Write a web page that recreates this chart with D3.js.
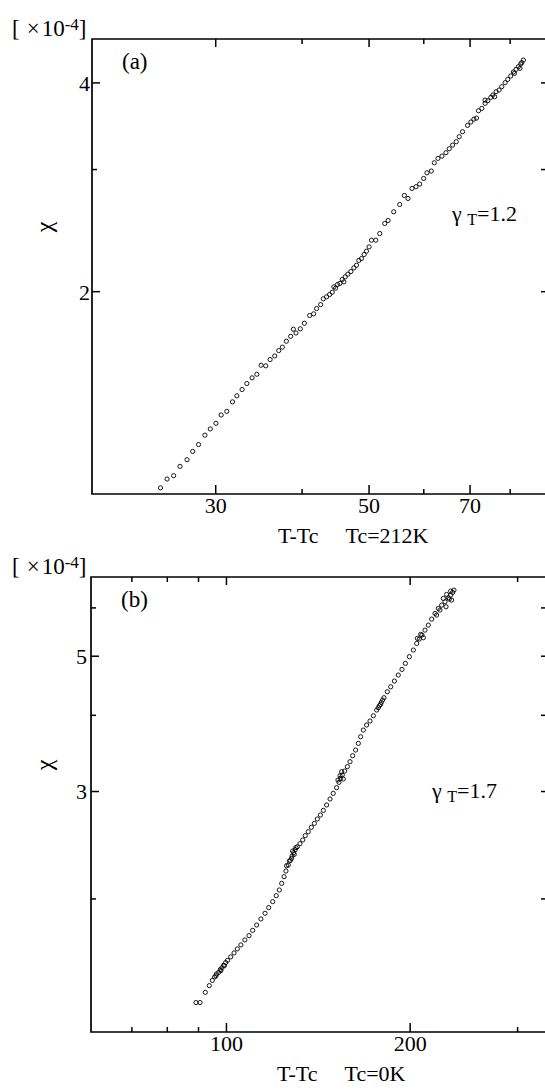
<!DOCTYPE html>
<html>
<head>
<meta charset="utf-8">
<script src="https://cdn.jsdelivr.net/npm/d3@7"></script>
<style>
    body { margin: 0; background: #fff; }
    svg { display: block; }
    text { font-family: "Liberation Serif", "DejaVu Serif", serif; fill: #000; }
</style>
</head>
<body>
<svg id="chart" width="545" height="1090"></svg>
<script>
// panel (a): T-Tc (K) and chi (x1e-4), Tc = 212K
var aT = [25.0, 25.55, 26.12, 26.68, 27.31, 27.83, 28.38, 28.99, 29.51, 30.07,
    30.60, 31.18, 31.78, 32.24, 32.81, 33.33, 33.92, 34.46, 34.95, 35.50,
    36.02, 36.58, 37.07, 37.52, 38.02, 38.57, 38.92, 39.26, 39.83, 40.37,
    41.09, 41.64, 42.05, 42.62, 43.00, 43.48, 43.91, 44.30, 44.80, 45.09,
    45.45, 45.80, 46.26, 46.67, 47.14, 47.61, 48.03, 48.41, 48.84, 49.27,
    49.65, 50.09, 50.49, 51.22, 51.90, 52.77, 53.36, 54.37, 55.47, 56.33,
    57.02, 57.79, 58.56, 59.28, 60.07, 60.74, 61.62, 62.24, 63.00, 63.85,
    64.70, 65.42, 66.15, 66.96, 67.63, 68.38, 69.53, 70.30, 71.01, 71.64,
    72.12, 72.92, 73.73, 74.39, 75.14, 75.63, 76.48, 77.24, 77.93, 78.80,
    79.50, 80.30, 81.01, 81.73, 82.37, 83.00, 83.75,
    82.8, 83.3, 81.3, 76.1, 73.7, 46.05, 44.55];
var aChi = [1.041, 1.072, 1.084, 1.118, 1.143, 1.175, 1.202, 1.240, 1.266, 1.290,
    1.326, 1.342, 1.385, 1.413, 1.443, 1.472, 1.500, 1.518, 1.564, 1.561,
    1.594, 1.613, 1.642, 1.661, 1.694, 1.722, 1.763, 1.741, 1.765, 1.798,
    1.845, 1.855, 1.888, 1.913, 1.950, 1.963, 1.978, 1.993, 2.020, 2.045,
    2.052, 2.079, 2.098, 2.116, 2.135, 2.161, 2.180, 2.215, 2.229, 2.259,
    2.284, 2.317, 2.369, 2.369, 2.422, 2.504, 2.529, 2.603, 2.667, 2.748,
    2.721, 2.813, 2.829, 2.854, 2.908, 2.963, 2.980, 3.063, 3.108, 3.132,
    3.167, 3.209, 3.248, 3.285, 3.340, 3.396, 3.468, 3.507, 3.541, 3.553,
    3.641, 3.669, 3.731, 3.764, 3.806, 3.836, 3.878, 3.900, 3.943, 3.996,
    4.040, 4.086, 4.140, 4.177, 4.214, 4.252, 4.308,
    4.191, 4.271, 4.122, 3.814, 3.772, 2.063, 2.029];
var aXTicks = [30, 40, 50, 60, 70, 80];
var aXLabels = [30, 50, 70];
var aYTicks = [2, 3, 4];
var aYLabels = [2, 4];

// panel (b): T-Tc (K) and chi (x1e-4), Tc = 0K
var bT = [89.3, 90.7, 92.5, 93.9, 95.0, 95.8, 96.5, 97.3, 97.9, 98.5,
    99.1, 99.9, 100.6, 101.8, 103.1, 104.4, 105.8, 107.4, 109.1, 110.6,
    112.3, 114.1, 115.9, 117.5, 119.3, 120.9, 122.3, 123.4, 124.5, 125.4,
    126.5, 127.5, 128.3, 129.1, 129.9, 130.9, 132.2, 133.6, 134.9, 136.4,
    138.0, 139.6, 141.2, 142.8, 144.4, 146.2, 148.1, 149.9, 151.8, 153.2,
    154.1, 155.1, 156.5, 158.1, 159.7, 161.3, 163.1, 164.8, 166.2, 167.9,
    170.0, 172.2, 174.4, 176.6, 178.4, 179.7, 181.5, 183.8, 186.2, 188.8,
    191.6, 194.3, 196.8, 199.8, 202.8, 205.4, 207.4, 209.5, 211.9, 214.6,
    217.3, 220.1, 222.9, 225.7, 228.5, 231.4, 233.5, 235.2, 236.4, 232.3,
    229.4, 234.3,
    96.3, 98.1, 99.4, 125.7, 127.0, 128.1, 129.4, 128.6, 130.2, 152.6,
    153.8, 154.7, 155.7, 177.7, 179.2, 180.6, 205.9, 208.5, 210.6, 227.1,
    229.9, 233.5, 224.2, 221.4];
var bChi = [1.350, 1.350, 1.403, 1.439, 1.468, 1.487, 1.504, 1.513, 1.529, 1.540,
    1.554, 1.570, 1.583, 1.604, 1.628, 1.653, 1.678, 1.710, 1.738, 1.773,
    1.809, 1.851, 1.891, 1.932, 1.976, 2.021, 2.065, 2.117, 2.171, 2.218,
    2.269, 2.309, 2.347, 2.377, 2.404, 2.431, 2.459, 2.494, 2.535, 2.573,
    2.616, 2.655, 2.699, 2.740, 2.789, 2.846, 2.911, 2.974, 3.038, 3.100,
    3.147, 3.187, 3.235, 3.289, 3.351, 3.428, 3.502, 3.591, 3.683, 3.776,
    3.849, 3.907, 3.986, 4.073, 4.140, 4.192, 4.267, 4.364, 4.447, 4.544,
    4.648, 4.748, 4.857, 4.981, 5.108, 5.237, 5.324, 5.405, 5.507, 5.612,
    5.741, 5.865, 5.977, 6.052, 6.129, 6.223, 6.286, 6.349, 6.405, 6.191,
    6.014, 6.168,
    1.493, 1.523, 1.552, 2.263, 2.303, 2.327, 2.362, 2.392, 2.423, 3.127,
    3.179, 3.227, 3.139, 4.108, 4.160, 4.229, 5.337, 5.419, 5.351, 6.207,
    6.302, 6.381, 5.940, 5.829];
var bXTicks = [70, 80, 90, 100, 200, 300];
var bXLabels = [100, 200];
var bYTicks = [2, 3, 4, 5, 6];
var bYLabels = [3, 5];

var svg = d3.select('#chart');

/**
 * Draw one log-log panel with a boxed frame and inward ticks
 * @param {Object} cfg
 */
function drawPanel(cfg) {
    var x = d3.scaleLog().domain(cfg.xDomain).range([cfg.left, cfg.right]);
    var y = d3.scaleLog().domain(cfg.yDomain).range([cfg.bottom, cfg.top]);
    var g = svg.append('g');
    var minorX = cfg.xTicks.filter(function(d) { return cfg.xLabels.indexOf(d) < 0; });
    var minorY = cfg.yTicks.filter(function(d) { return cfg.yLabels.indexOf(d) < 0; });
    var fmt = function(d) { return String(d); };

    // bottom + top
    g.append('g').attr('class', 'xlab').attr('transform', 'translate(0,' + cfg.bottom + ')')
        .call(d3.axisBottom(x).tickValues(cfg.xLabels).tickFormat(fmt)
            .tickSizeInner(-9).tickSizeOuter(0).tickPadding(3));
    g.append('g').attr('transform', 'translate(0,' + cfg.bottom + ')')
        .call(d3.axisBottom(x).tickValues(minorX).tickFormat('').tickSizeInner(-5).tickSizeOuter(0));
    g.append('g').attr('transform', 'translate(0,' + cfg.top + ')')
        .call(d3.axisTop(x).tickValues(cfg.xLabels).tickFormat('').tickSizeInner(-8).tickSizeOuter(0));
    g.append('g').attr('transform', 'translate(0,' + cfg.top + ')')
        .call(d3.axisTop(x).tickValues(minorX).tickFormat('').tickSizeInner(-5).tickSizeOuter(0));

    // left + right
    g.append('g').attr('class', 'ylab').attr('transform', 'translate(' + cfg.left + ',0)')
        .call(d3.axisLeft(y).tickValues(cfg.yLabels).tickFormat(fmt)
            .tickSizeInner(-8).tickSizeOuter(0).tickPadding(cfg.yPad));
    g.append('g').attr('transform', 'translate(' + cfg.left + ',0)')
        .call(d3.axisLeft(y).tickValues(minorY).tickFormat('').tickSizeInner(-5).tickSizeOuter(0));
    g.append('g').attr('transform', 'translate(' + cfg.right + ',0)')
        .call(d3.axisRight(y).tickValues(cfg.yTicks).tickFormat('').tickSizeInner(-6).tickSizeOuter(0));

    g.selectAll('.domain').remove();
    g.selectAll('.tick line').attr('stroke', '#000').attr('stroke-width', 1.5);
    g.selectAll('.tick text').attr('fill', '#000')
        .attr('font-family', '"Liberation Serif", serif')
        .style('font-size', '22px')
        .style('font-family', '"Liberation Serif", serif');
    g.selectAll('.ylab .tick text').attr('dy', '0.36em');

    // frame
    g.append('path')
        .attr('d', 'M' + cfg.right + ',' + cfg.top + 'H' + cfg.left + 'V' + cfg.bottom + 'H' + cfg.right)
        .attr('fill', 'none').attr('stroke', '#000').attr('stroke-width', 1.7);

    // data points
    g.append('g').selectAll('circle')
        .data(d3.range(cfg.xs.length))
        .join('circle')
        .attr('cx', function(i) { return x(cfg.xs[i]); })
        .attr('cy', function(i) { return y(cfg.ys[i]); })
        .attr('r', 2.1)
        .attr('fill', 'none')
        .attr('stroke', '#000')
        .attr('stroke-width', 0.9);

    // multiplier label [x10^-4]
    var m = g.append('text').attr('x', 12).attr('y', cfg.top - 3).style('font-size', '23px');
    m.append('tspan').text('[');
    m.append('tspan').attr('dx', 7).text('\u00d7');
    m.append('tspan').attr('dx', 2).text('10');
    m.append('tspan').attr('dy', -6).style('font-size', '17px').text('-4');
    m.append('tspan').attr('dy', 6).text(']');

    // panel tag
    g.append('text').attr('x', cfg.left + 30).attr('y', cfg.top + 30)
        .style('font-size', '23px').text(cfg.tag);

    // chi label
    g.append('text')
        .attr('transform', 'translate(' + 52 + ',' + cfg.chiY + ') rotate(-90)')
        .attr('text-anchor', 'middle')
        .style('font-size', '24px').text('\u03c7');

    // exponent annotation
    var gm = g.append('text').attr('x', cfg.gx).attr('y', cfg.gy).style('font-size', '22px');
    gm.append('tspan').text('\u03b3 ');
    gm.append('tspan').attr('dy', 4).style('font-size', '16px').text('T');
    gm.append('tspan').attr('dy', -4).text('=' + cfg.gamma);

    // x axis title
    g.append('text').attr('x', cfg.titleX).attr('y', cfg.bottom + 49)
        .style('font-size', '22px').attr('xml:space', 'preserve')
        .text('T-Tc     ' + cfg.tc);
}

drawPanel({
    xs: aT, ys: aChi,
    xDomain: [19.9, 90.6], yDomain: [1.02, 4.62],
    left: 92, right: 547, top: 39, bottom: 494,
    xTicks: aXTicks, xLabels: aXLabels, yTicks: aYTicks, yLabels: aYLabels,
    yPad: 2, tag: '(a)', chiY: 227, gx: 452, gy: 221, gamma: '1.2',
    titleX: 278, tc: 'Tc=212K'
});

drawPanel({
    xs: bT, ys: bChi,
    xDomain: [60.1, 335.8], yDomain: [1.208, 6.73],
    left: 91, right: 547, top: 577, bottom: 1032,
    xTicks: bXTicks, xLabels: bXLabels, yTicks: bYTicks, yLabels: bYLabels,
    yPad: 4, tag: '(b)', chiY: 765, gx: 432, gy: 798, gamma: '1.7',
    titleX: 277, tc: 'Tc=0K'
});
</script>
</body>
</html>
